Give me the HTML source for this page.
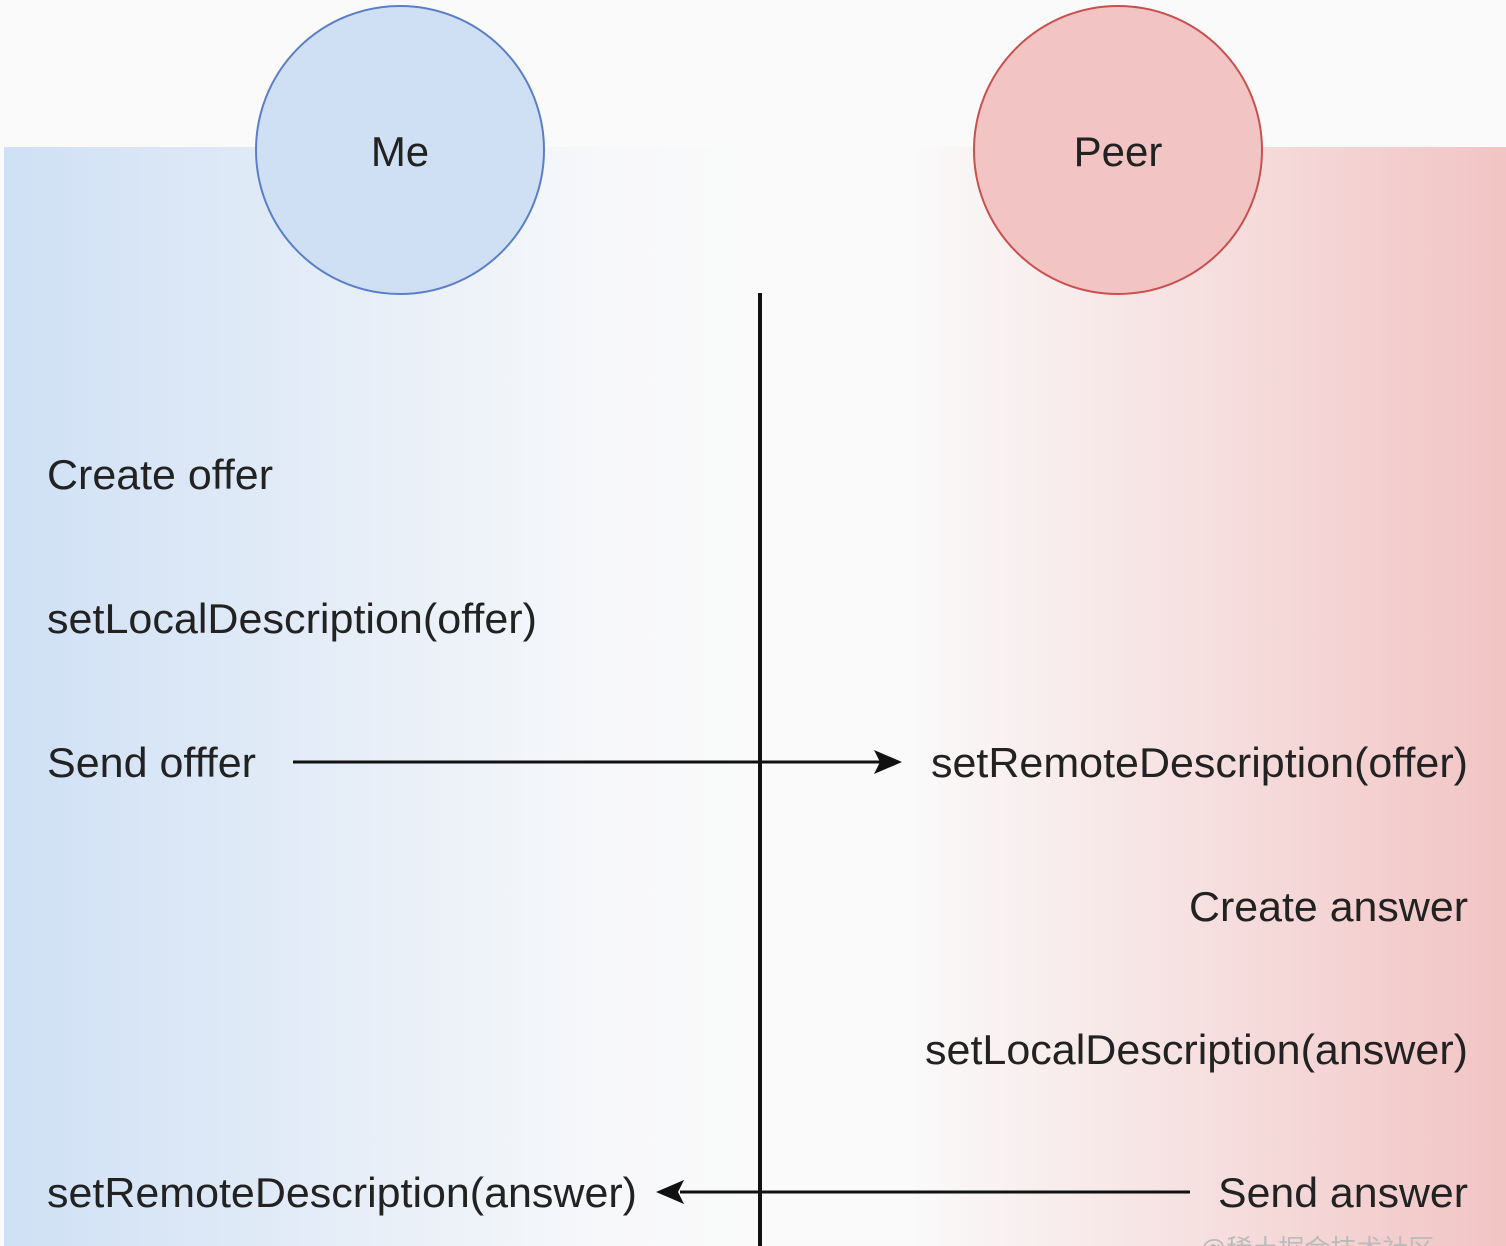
<!DOCTYPE html>
<html><head><meta charset="utf-8"><style>
html,body{margin:0;padding:0;background:#fafafa;}
body{width:1506px;height:1246px;position:relative;overflow:hidden;font-family:"Liberation Sans","Noto Sans CJK SC",sans-serif;}
</style></head><body>
<svg width="1506" height="1246" xmlns="http://www.w3.org/2000/svg" style="position:absolute;left:0;top:0">
<defs>
<linearGradient id="bl" x1="0" x2="1" y1="0" y2="0">
<stop offset="0" stop-color="#cfe0f5"/><stop offset="0.8" stop-color="#f7f8fa"/><stop offset="1" stop-color="#fafafa"/>
</linearGradient>
<linearGradient id="rd" x1="0" x2="1" y1="0" y2="0">
<stop offset="0" stop-color="#fafafa"/><stop offset="0.2" stop-color="#fafafa"/><stop offset="1" stop-color="#f2c4c4"/>
</linearGradient>
</defs>
<rect x="0" y="0" width="1506" height="1246" fill="#fafafa"/>
<rect x="4" y="147" width="756" height="1099" fill="url(#bl)"/>
<rect x="760" y="147" width="746" height="1099" fill="url(#rd)"/>
<circle cx="400" cy="150" r="144" fill="#cfe0f5" stroke="#5b7fc6" stroke-width="2"/>
<circle cx="1118" cy="150" r="144" fill="#f2c4c4" stroke="#c8504e" stroke-width="2"/>
<g font-size="42" fill="#222" font-family="Liberation Sans, sans-serif">
<text x="400" y="166" text-anchor="middle">Me</text>
<text x="1118" y="166" text-anchor="middle">Peer</text>
</g>
<line x1="760" y1="293" x2="760" y2="1246" stroke="#111" stroke-width="4"/>
<line x1="293" y1="762" x2="880" y2="762" stroke="#111" stroke-width="3"/>
<polygon points="902,762 874,750 880,762 874,774" fill="#111"/>
<line x1="680" y1="1192" x2="1190" y2="1192" stroke="#111" stroke-width="3"/>
<polygon points="656,1192 684,1180 678,1192 684,1204" fill="#111"/>
<g font-size="42" fill="#222" font-family="Liberation Sans, sans-serif">
<text x="47" y="489" textLength="226" lengthAdjust="spacingAndGlyphs">Create offer</text>
<text x="47" y="633" textLength="490" lengthAdjust="spacingAndGlyphs">setLocalDescription(offer)</text>
<text x="47" y="777" textLength="209" lengthAdjust="spacingAndGlyphs">Send offfer</text>
<text x="47" y="1207" textLength="590" lengthAdjust="spacingAndGlyphs">setRemoteDescription(answer)</text>
<text x="931" y="777" textLength="537" lengthAdjust="spacingAndGlyphs">setRemoteDescription(offer)</text>
<text x="1189" y="921" textLength="279" lengthAdjust="spacingAndGlyphs">Create answer</text>
<text x="925" y="1064" textLength="543" lengthAdjust="spacingAndGlyphs">setLocalDescription(answer)</text>
<text x="1218" y="1207" textLength="250" lengthAdjust="spacingAndGlyphs">Send answer</text>
</g>
<text x="1200" y="1258" font-size="26" fill="#bbb" font-family="Liberation Sans, Noto Sans CJK SC, sans-serif">@稀土掘金技术社区</text>
</svg>
</body></html>
